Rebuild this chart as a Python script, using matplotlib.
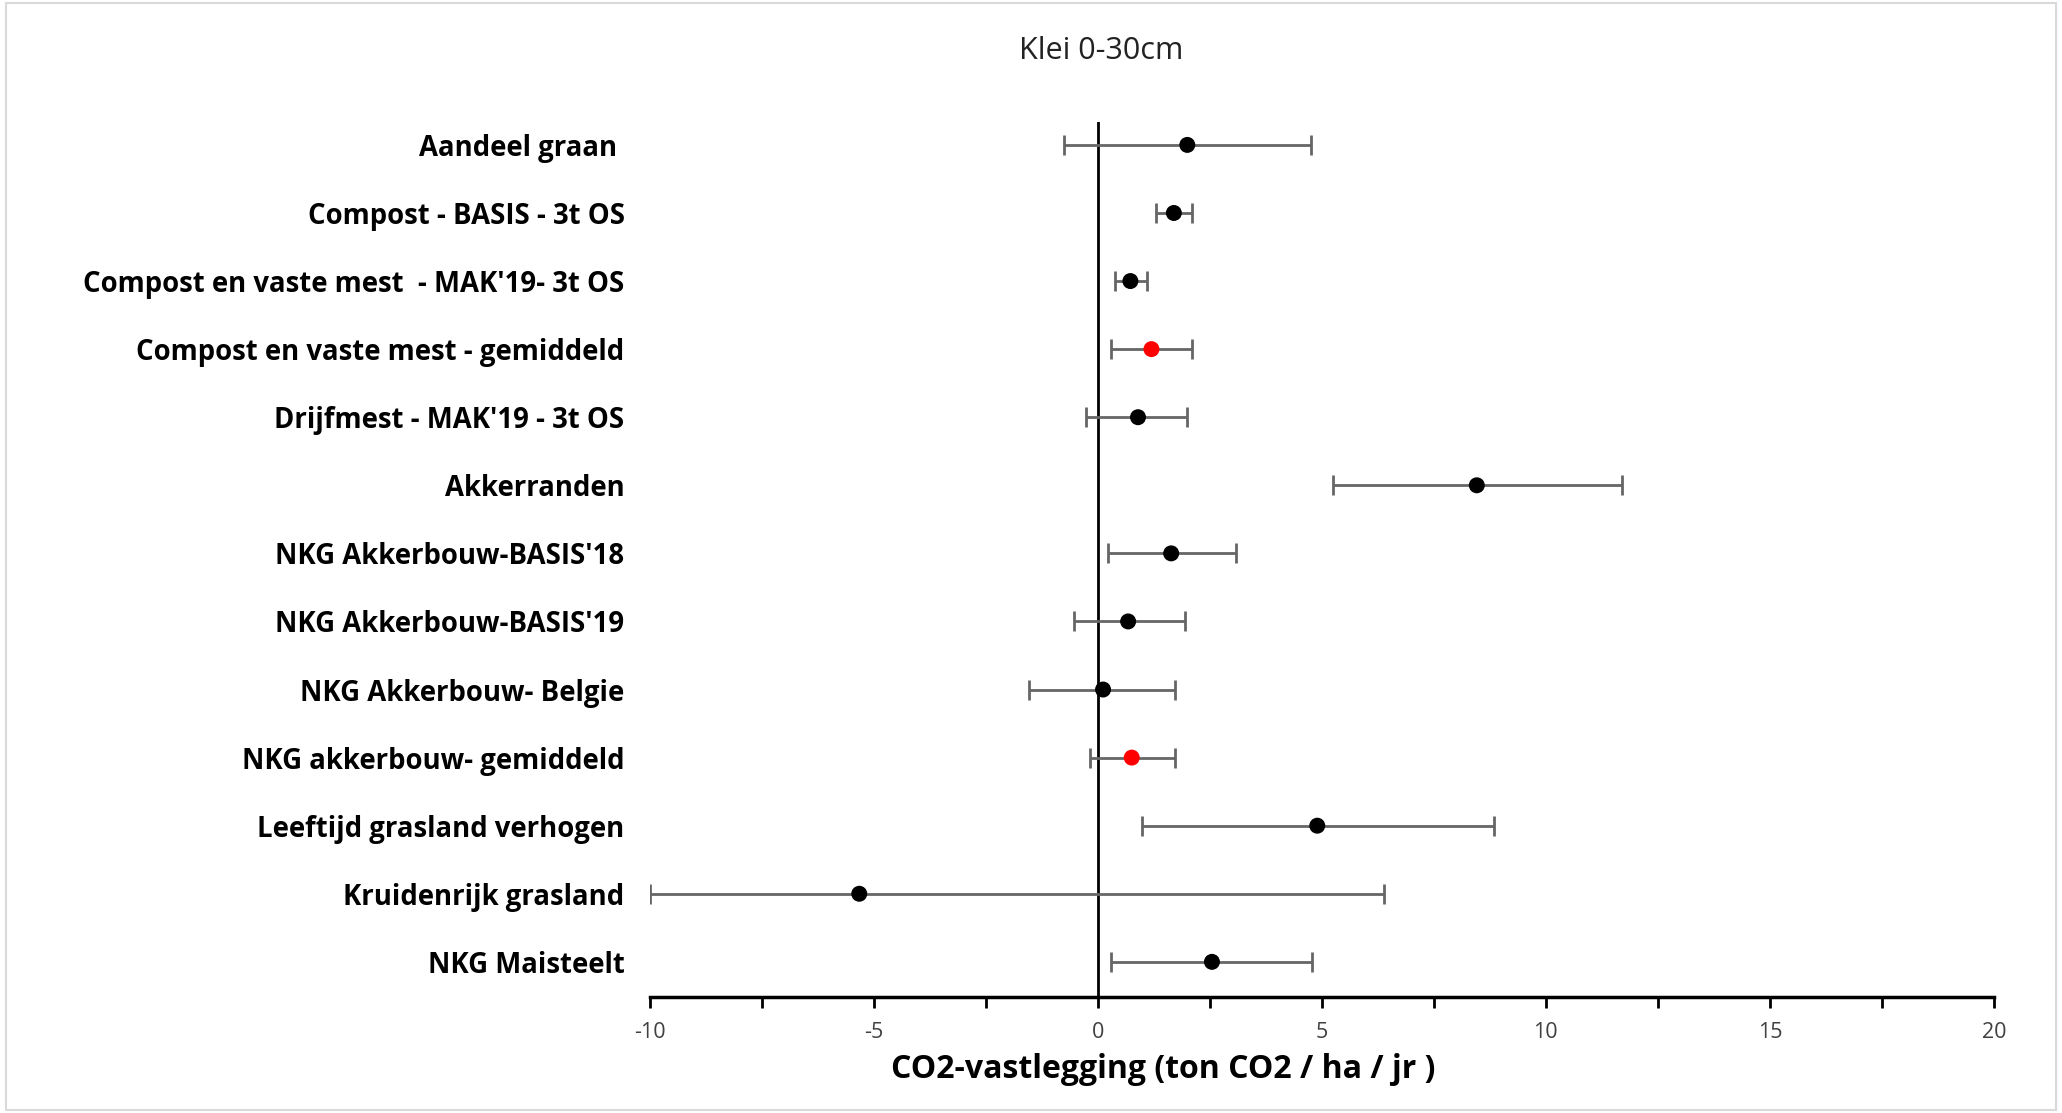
import numpy as np
import matplotlib.pyplot as plt
from matplotlib.patches import Rectangle

plt.rcParams['axes.unicode_minus'] = False

#data (ton CO2 / ha / jr)
labels = ['Aandeel graan ',
          'Compost - BASIS - 3t OS',
          "Compost en vaste mest  - MAK'19- 3t OS",
          'Compost en vaste mest - gemiddeld',
          "Drijfmest - MAK'19 - 3t OS",
          'Akkerranden',
          "NKG Akkerbouw-BASIS'18",
          "NKG Akkerbouw-BASIS'19",
          'NKG Akkerbouw- Belgie',
          'NKG akkerbouw- gemiddeld',
          'Leeftijd grasland verhogen',
          'Kruidenrijk grasland',
          'NKG Maisteelt']
means = [2.0, 1.7, 0.73, 1.2, 0.9, 8.46, 1.64, 0.68, 0.12, 0.76, 4.9, -5.32, 2.55]
lows = [-0.76, 1.3, 0.38, 0.3, -0.26, 5.26, 0.23, -0.53, -1.53, -0.18, 1.0, -10.0, 0.3]
highs = [4.76, 2.1, 1.1, 2.1, 2.0, 11.7, 3.08, 1.94, 1.73, 1.73, 8.84, 6.4, 4.79]
averaged = [3, 9]  #rows drawn in red

font = 'Open Sans'
fig = plt.figure(figsize=(20.62, 11.13), dpi=100)
ax = fig.add_axes([0.315, 0.104, 0.652, 0.786])

n = len(labels)
y = np.arange(n)[::-1]
means = np.array(means)
err = np.vstack([means - np.array(lows), np.array(highs) - means])

ax.errorbar(means, y, xerr=err, fmt='none', ecolor='#666666',
            elinewidth=2, capsize=7, capthick=2, zorder=2)
colors = ['red' if i in averaged else 'black' for i in range(n)]
ax.scatter(means, y, s=110, c=colors, zorder=3)

ax.axvline(0, color='black', lw=2, zorder=1)

ax.set_xlim(-10, 20)
ax.set_ylim(-0.52, n - 1 + 0.33)
ax.set_xticks(np.arange(-10, 21, 5))
ax.set_xticks(np.arange(-10, 21, 2.5), minor=True)
ax.tick_params(axis='x', which='both', direction='out', length=8, width=2,
               labelsize=15.5, colors='black', pad=10)
for t in ax.get_xticklabels():
    t.set_family(font)
    t.set_color('#404040')
ax.set_yticks(y)
ax.set_yticklabels(labels, fontsize=19.8, fontweight='bold', family=font)
ax.tick_params(axis='y', length=0, pad=18)

for s in ['top', 'right', 'left']:
    ax.spines[s].set_visible(False)
ax.spines['bottom'].set_linewidth(2.5)

fig.text(0.534, 0.954, 'Klei 0-30cm', ha='center', va='center',
         fontsize=22, family=font, color='#222222')
fig.text(0.564, 0.039, 'CO2-vastlegging (ton CO2 / ha / jr )', ha='center',
         va='center', fontsize=23, fontweight='bold', family=font)

#light chart border
fig.patches.append(Rectangle((0.003, 0.003), 0.994, 0.994,
                             transform=fig.transFigure, fill=False,
                             edgecolor='#d9d9d9', lw=1.5))

fig.savefig('out.png', dpi=100)
